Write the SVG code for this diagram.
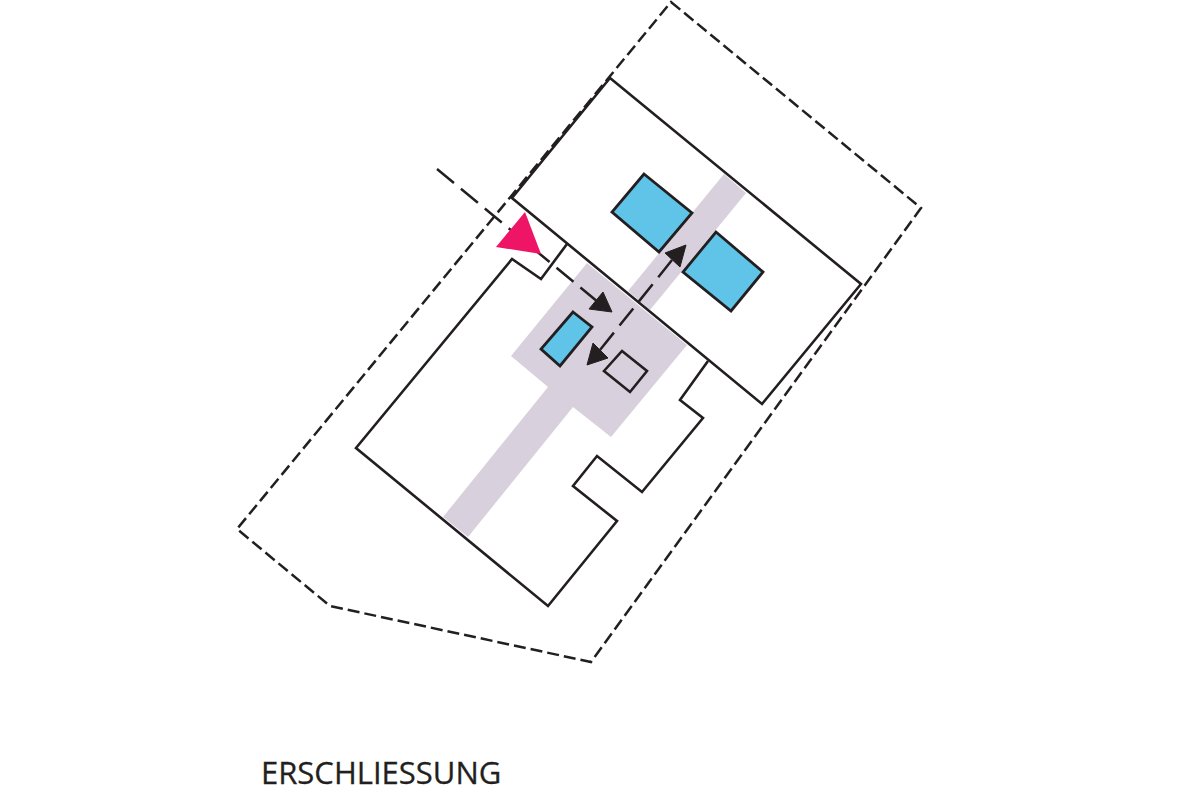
<svg xmlns="http://www.w3.org/2000/svg" width="1200" height="800" viewBox="0 0 1200 800">
<style>
.line{fill:none;stroke:#231f20;stroke-width:2.6;stroke-linejoin:miter}
.dash{fill:none;stroke:#231f20;stroke-width:2.5;stroke-dasharray:12 5}
.route{fill:none;stroke:#231f20;stroke-width:2.5;stroke-dasharray:22 9}
.blue{fill:#5fc4e8;stroke:#231f20;stroke-width:2.8}
.head{fill:#231f20;stroke:#231f20;stroke-width:1}
.label{font-family:"Open Sans","Noto Sans",sans-serif;font-size:31px;fill:#231f20;stroke:#231f20;stroke-width:.3}
</style>
<rect width="1200" height="800" fill="#fff"/>
<g id="circulation-area"><path fill="#d9d0de" d="M511 356L587 263L687 345L611 437L573 407L468 537L443 517L548 387Z"/><path fill="#d9d0de" d="M628 291L724 174L746 193L650 310Z"/></g>
<g id="plot-boundary"><path class="dash" d="M671 2L921 208L591 662L330 606L237 529Z"/></g>
<g id="upper-building"><path class="line" d="M610 78L861 284L762 404L512 198Z"/></g>
<g id="lower-building"><path class="line" d="M567 244L541 279L512 259L356 448L548 606L617 521L573 486L597 456L642 492L703 418L680 400L708 361"/></g>
<g id="core-a"><path class="blue" d="M644 174L692 213L659 252L612 212Z"/></g>
<g id="core-b"><path class="blue" d="M716 232L763 272L731 311L683 272Z"/></g>
<g id="core-c"><path class="blue" d="M573 312L592 327L560 366L541 349Z"/></g>
<g id="small-room"><path class="line" d="M622 351L647 371L630 392L604 371Z"/></g>
<g id="connectors">
<path class="route" d="M437 169L598 302"/>
<path class="head" d="M612 312L603 292L589 309Z"/>
<path class="route" d="M672 260L600 350"/>
<path class="head" d="M686 245L665 253L680 267Z"/>
<path class="head" d="M587 365L593 343L608 358Z"/>
</g>
<g id="entrance"><path fill="#ee1566" d="M525 212L541 254L496 247Z"/></g>
<text class="label" x="261" y="784">ERSCHLIESSUNG</text>
</svg>
